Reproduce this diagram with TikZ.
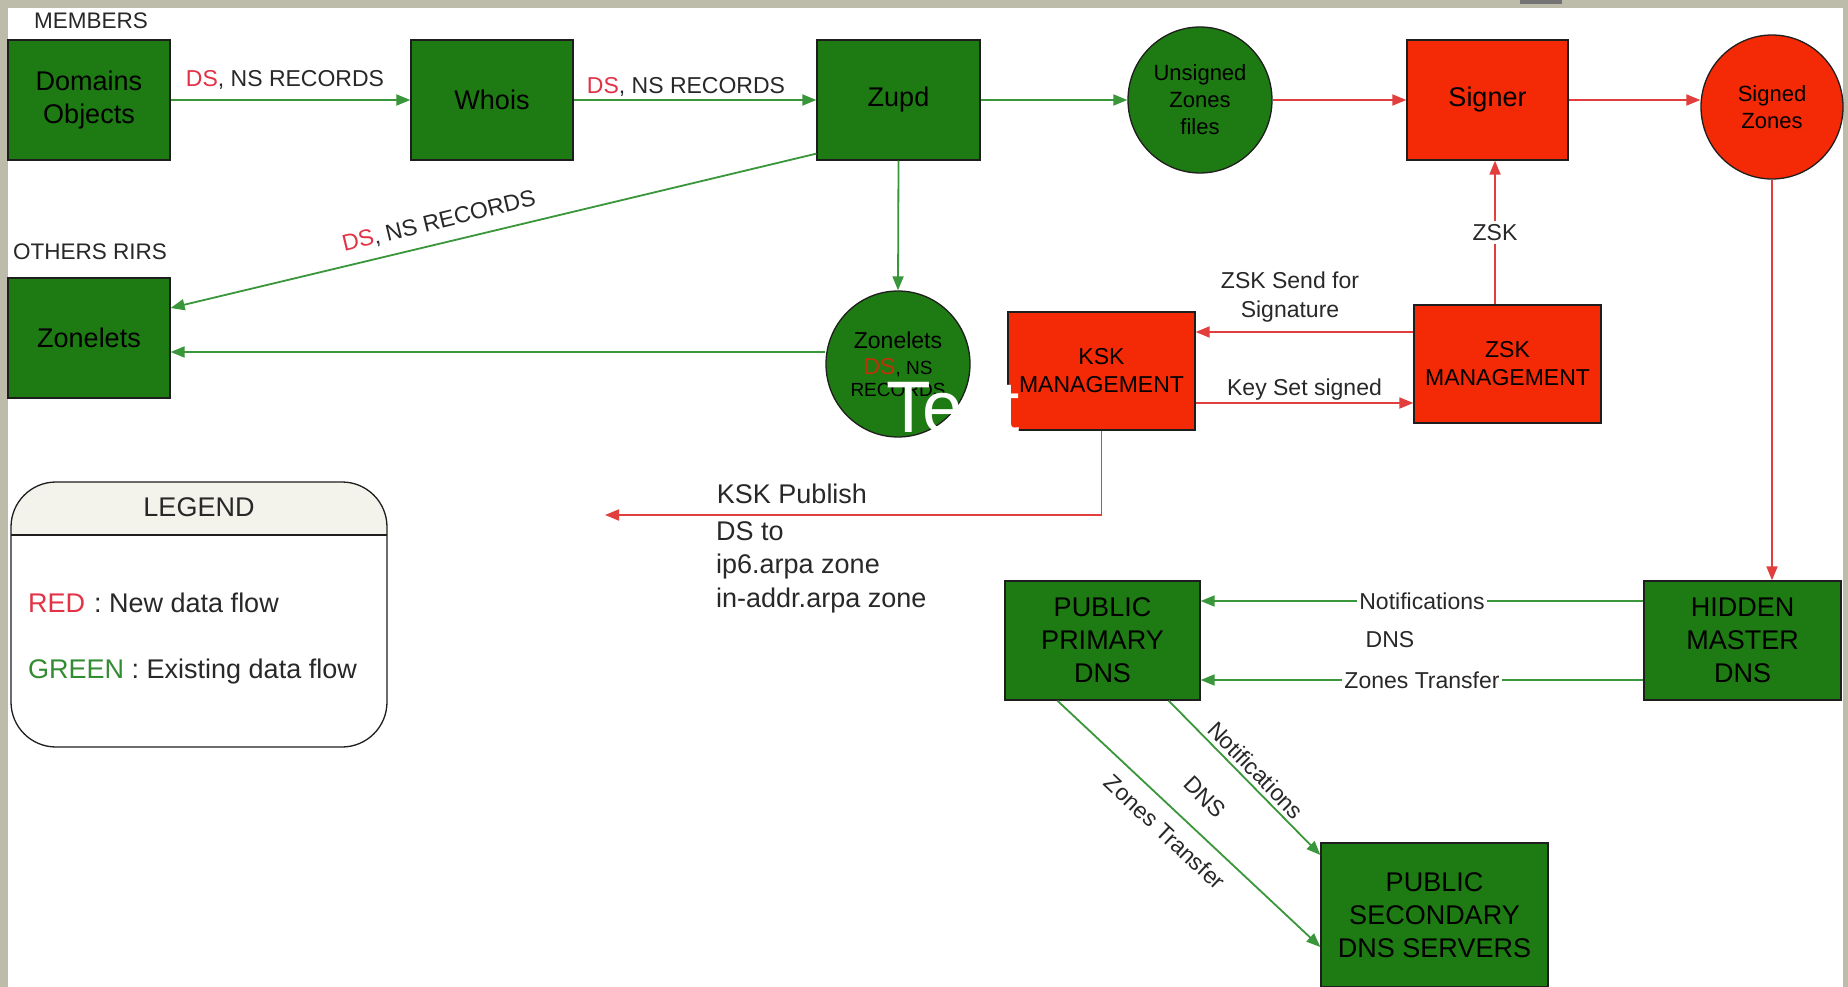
\documentclass[tikz,border=0pt]{standalone}
\usepackage{fontspec}
\setmainfont{Liberation Sans}
\usetikzlibrary{arrows.meta,shapes.geometric,calc}
\definecolor{bgbeige}{RGB}{189,188,170}
\definecolor{gfill}{RGB}{30,122,18}
\definecolor{rfill}{RGB}{244,42,6}
\definecolor{boxline}{RGB}{30,30,30}
\definecolor{gline}{RGB}{58,150,58}
\definecolor{rline}{RGB}{226,62,62}
\definecolor{dsred}{RGB}{226,50,70}
\definecolor{dsorange}{RGB}{190,50,10}
\definecolor{lgreen}{RGB}{50,140,50}
\definecolor{tgray}{RGB}{40,40,40}
\definecolor{hdrfill}{RGB}{243,243,236}
\newcommand{\fsz}[2]{\fontsize{#1}{#2}\selectfont}
\begin{document}
\begin{tikzpicture}[x=1pt,y=-1pt,
  gbox/.style={draw=boxline, fill=gfill, line width=1.3pt, inner sep=0pt, align=center, font=\fsz{27}{33}, text=black},
  rbox/.style={draw=boxline, fill=rfill, line width=1.3pt, inner sep=0pt, align=center, font=\fsz{27}{33}, text=black},
  gell/.style={ellipse, draw=boxline, fill=gfill, line width=1.3pt, inner sep=0pt, align=center, text=black},
  rell/.style={ellipse, draw=boxline, fill=rfill, line width=1.3pt, inner sep=0pt, align=center, text=black},
  garrow/.style={draw=gline, line width=1.8pt, -{Triangle[length=14pt,width=11pt]}},
  rarrow/.style={draw=rline, line width=1.8pt, -{Triangle[length=14pt,width=11pt]}},
  lbl/.style={font=\fsz{23}{29}, text=tgray, inner sep=1pt, align=center},
  biglbl/.style={font=\fsz{27}{33.5}, text=tgray, inner sep=0pt, align=left}
]
\useasboundingbox (0,0) rectangle (1848,987);
% background frame
\fill[bgbeige] (0,0) rectangle (1848,987);
\fill[white] (8,8) rectangle (1843,987);
\fill[black!55] (1520,0) rectangle (1562,4);

% top row
\node[gbox, minimum width=162pt, minimum height=120pt] (dom) at (89,100) {Domains\\Objects};
\node[gbox, minimum width=162pt, minimum height=120pt] (whois) at (492,100) {Whois};
\node[gbox, minimum width=163pt, minimum height=120pt] (zupd) at (898.5,100) {Zupd};
\node[gell, minimum width=144pt, minimum height=146pt, font=\fsz{22}{27}] (uns) at (1200,100) {Unsigned\\Zones\\files};
\node[rbox, minimum width=161pt, minimum height=120pt] (signer) at (1487.5,100) {Signer};
\node[rell, minimum width=142pt, minimum height=144pt, font=\fsz{22}{27}] (signed) at (1772,107) {Signed\\Zones};

\node[lbl, font=\fsz{22.5}{27}] (members) at (91,21) {MEMBERS};
\node[lbl, font=\fsz{22.5}{27}] (others) at (90,252) {OTHERS RIRS};

% second row
\node[gbox, minimum width=162pt, minimum height=120pt] (zbox) at (89,338) {Zonelets};
\node[gell, minimum width=144pt, minimum height=146pt, font=\fsz{19}{22}] (zell) at (898,364)
  {{\fsz{23}{27}Zonelets}\\[4pt]{\fsz{23}{22}\textcolor{dsorange}{DS}}, NS\\RECORDS};
\node[rbox, minimum width=187pt, minimum height=118pt, font=\fsz{23}{28}] (ksk) at (1101.5,371) {KSK\\MANAGEMENT};
\node[rbox, minimum width=187pt, minimum height=118pt, font=\fsz{23}{28}] (zsk) at (1507.5,364) {ZSK\\MANAGEMENT};

% DNS row
\node[gbox, minimum width=195pt, minimum height=119pt] (pp) at (1102.5,640.5) {PUBLIC\\PRIMARY\\DNS};
\node[gbox, minimum width=197pt, minimum height=119pt] (hm) at (1742.5,640.5) {HIDDEN\\MASTER\\DNS};
\node[gbox, minimum width=227pt, minimum height=144pt] (sec) at (1434.5,915) {PUBLIC\\SECONDARY\\DNS SERVERS};

% connectors top row
\draw[garrow] (dom.east) -- (whois.west);
\draw[garrow] (whois.east) -- (zupd.west);
\draw[garrow] (zupd.east) -- (uns.west);
\draw[rarrow] (uns.east) -- (signer.west);
\draw[rarrow] (signer.east) -- (signer.east -| signed.west);
\draw[rarrow] (signed.south) -- (signed.south |- hm.north);

\node[lbl] (l1) at (285,80) {\textcolor{dsred}{DS}, NS RECORDS};
\node[lbl] (l2) at (686,87) {\textcolor{dsred}{DS}, NS RECORDS};

% Zupd to zonelets
\draw[garrow] ([yshift=7pt]zupd.south west) -- ([yshift=30pt]zbox.east);
\node[lbl, rotate=13.55] (l3) at (439,222) {\textcolor{dsred}{DS}, NS RECORDS};
\draw[garrow] (zupd.south) -- (zell.north);
\draw[garrow] ([yshift=12pt]zell.west) -- ([yshift=12pt]zell.west -| zbox.east);

% key management
\draw[rarrow] ([yshift=32pt]zsk.west) -- ([yshift=32pt]zsk.west -| ksk.east);
\draw[rarrow] ([yshift=-32pt]ksk.east) -- ([yshift=-32pt]ksk.east -| zsk.west);
\node[lbl] (l4) at (1290,297) {ZSK Send for\\Signature};
\node[lbl] (l5) at (1304.5,390) {Key Set signed};
\draw[rarrow] ([xshift=-12.5pt]zsk.north) -- ([xshift=-12.5pt]zsk.north |- signer.south)
  node[lbl, midway, fill=white, inner sep=3pt] (l6) {ZSK};

% KSK publish
\coordinate (pubend) at (605,515);
\draw[rarrow] (ksk.south) |- (pubend);
\node[biglbl] (l7) at (792,494) {KSK Publish};
\node[biglbl, anchor=west] (l8) at (716,567) {DS to\\ip6.arpa zone\\in-addr.arpa zone};

% hidden master to public primary
\draw[garrow] ([yshift=39.5pt]hm.west) -- ([yshift=39.5pt]hm.west -| pp.east)
  node[lbl, midway, fill=white, inner sep=2pt] (l9) {Notifications};
\draw[garrow] ([yshift=-39.5pt]hm.west) -- ([yshift=-39.5pt]hm.west -| pp.east)
  node[lbl, midway, fill=white, inner sep=2pt] (l10) {Zones Transfer};
\node[lbl] (l11) at (1390,640) {DNS};

% public primary to secondary
\draw[garrow] ([xshift=-32pt]pp.south east) -- ([yshift=60pt]sec.west);
\draw[garrow] ([xshift=53pt]pp.south west) -- ([yshift=-32pt]sec.west);
\node[lbl, rotate=-45.6] (l12) at (1256,770) {Notifications};
\node[lbl, rotate=-45] (l13) at (1205,797) {DNS};
\node[lbl, rotate=-43.2] (l14) at (1165,832) {Zones Transfer};

% white overlay text
\node[text=white, font=\fsz{73}{75}, anchor=base west, inner sep=0pt] (txt) at (886,432) {Text};

% legend
\begin{scope}
  \clip[rounded corners=45pt] (11,482) rectangle (387,747);
  \fill[hdrfill] (11,482) rectangle (387,535);
\end{scope}
\node[draw=boxline, line width=1.3pt, rounded corners=45pt, minimum width=376pt, minimum height=265pt, inner sep=0pt] (legend) at (199,614.5) {};
\coordinate (hl) at (11,535);
\coordinate (hr) at (387,535);
\draw[boxline, line width=1.3pt] (hl) -- (hr);
\node[biglbl] (legtitle) at (199,507) {LEGEND};
\node[biglbl, anchor=west] (legred) at (28,603) {\textcolor{dsred}{RED}\hspace{9pt}: New data flow};
\node[biglbl, anchor=west] (leggreen) at (28,672) {\textcolor{lgreen}{GREEN} : Existing data flow};
\end{tikzpicture}
\end{document}
